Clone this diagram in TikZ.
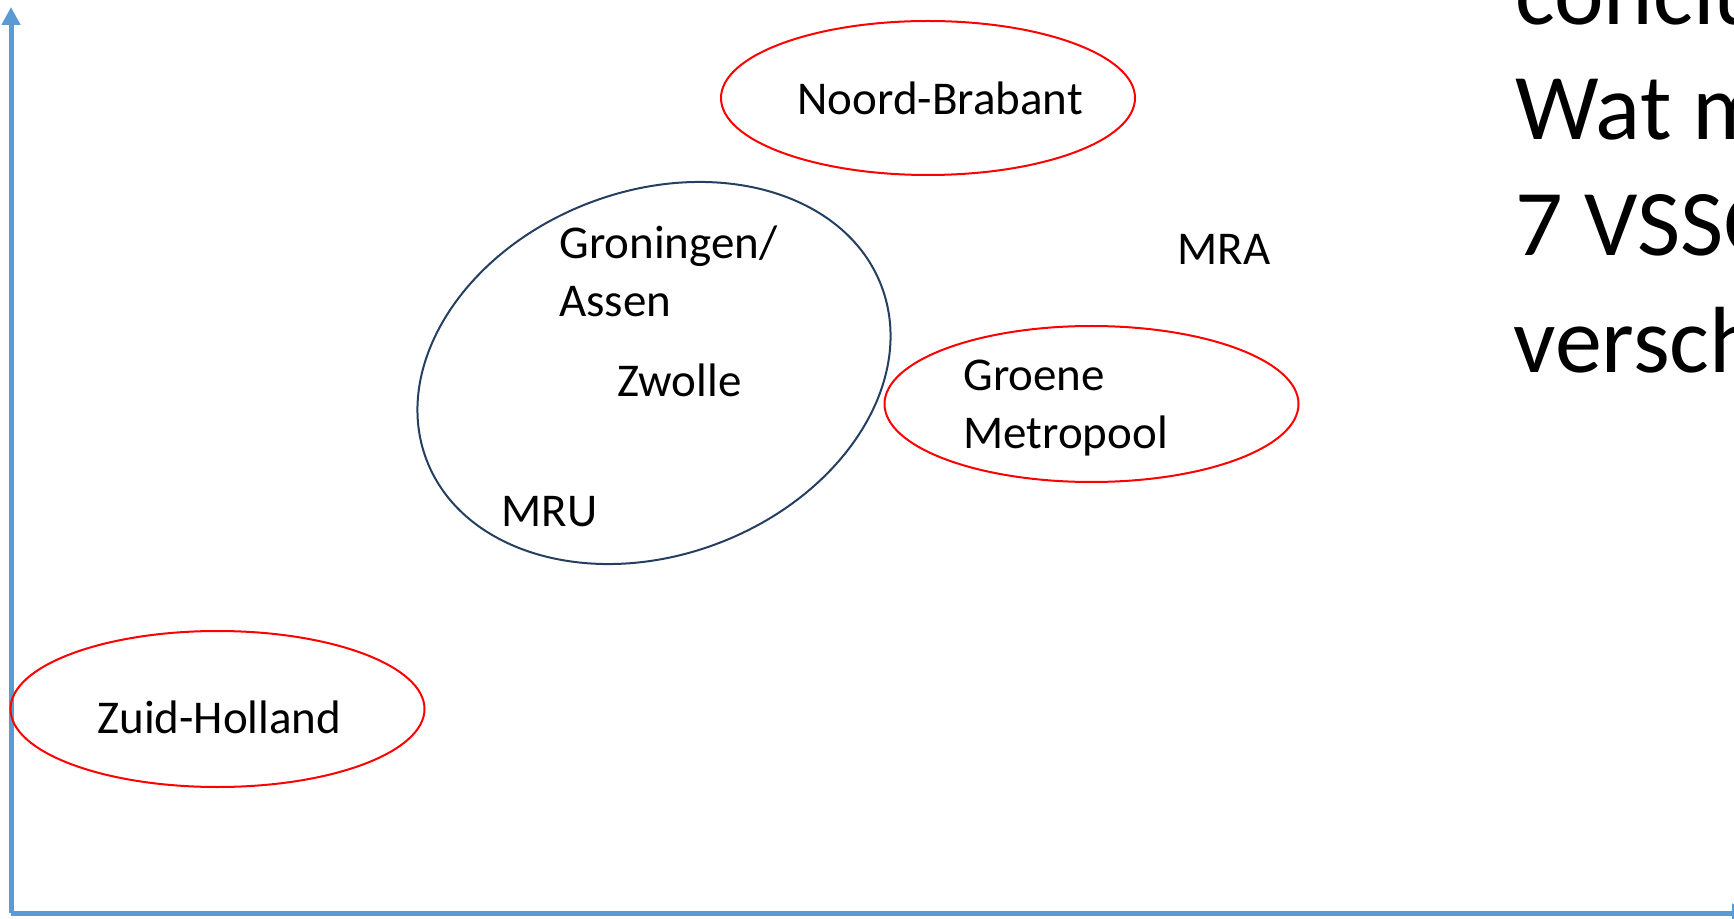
\documentclass[tikz,border=0pt]{standalone}
\usepackage{fontspec}
\setmainfont{Carlito}
\usetikzlibrary{arrows.meta,shapes.geometric}
\definecolor{axisblue}{HTML}{5B9BD5}
\definecolor{ringnavy}{HTML}{243F60}
\tikzset{
    region/.style={ellipse, draw=red, line width=1pt, inner sep=0pt, minimum width=207pt, minimum height=78pt},
    place/.style={anchor=base west, inner sep=0pt, font=\fontsize{23.5}{29}\selectfont},
    bigline/.style={anchor=base west, inner sep=0pt, font=\fontsize{47}{58}\selectfont},
}
\begin{document}
\begin{tikzpicture}[x=0.5pt,y=-0.5pt]
    \useasboundingbox (0,0) rectangle (1734,919);
    \clip (0,0) rectangle (1734,919);
    \coordinate (Origin)   at (11,913);
    \coordinate (XAxisMax) at (1750,913);
    \coordinate (YAxisMax) at (11,7);
    \draw [line width=2.5pt, axisblue, -{Triangle[length=9pt,width=9pt]}] (Origin) -- (XAxisMax);% x axis
    \draw [line width=2.5pt, axisblue, -{Triangle[length=9pt,width=9pt]}] (Origin) -- (YAxisMax);% y axis
    % regions
    \node [region, minimum height=77pt] (NBring) at (928,98) {};
    \node [region] (GMring) at (1091.5,404) {};
    \node [region] (ZHring) at (217.5,709) {};
    \node [ellipse, draw=ringnavy, line width=1pt, inner sep=0pt, minimum width=243.5pt, minimum height=182pt, rotate=21] (Noordring) at (654,373) {};
    % labels
    \node [place] (NB)    at (797,115) {Noord-Brabant};
    \node [place] (Gron)  at (559,259) {Groningen/};
    \node [place] (Assen) at (559,317) {Assen};
    \node [place] (Zw)    at (617,397) {Zwolle};
    \node [place] (MRU)   at (501,526) {MRU};
    \node [place] (MRA)   at (1177,265) {MRA};
    \node [place] (Groen) at (963,391) {Groene};
    \node [place] (Metro) at (963,448) {Metropool};
    \node [place] (ZH)    at (97,733) {Zuid-Holland};
    % text cut off at the right
    \node [bigline] (concl)  at (1515,25)  {conclusie};
    \node [bigline] (watm)   at (1515,140) {Wat moeten};
    \node [bigline] (vssg)   at (1515,256) {7 VSSG’s};
    \node [bigline] (versch) at (1513,372) {verschillen};
\end{tikzpicture}
\end{document}
